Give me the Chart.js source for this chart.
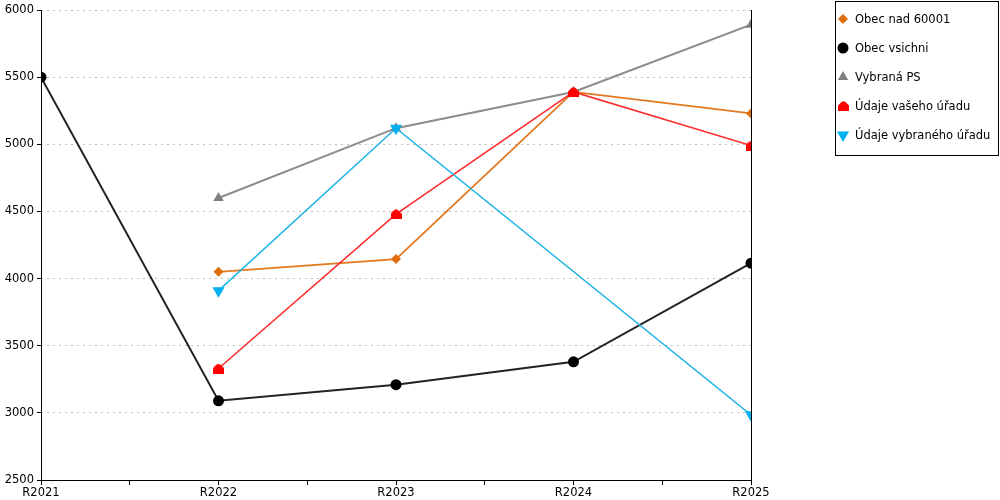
<!DOCTYPE html>
<html>
<head>
<meta charset="utf-8">
<script src="https://cdn.jsdelivr.net/npm/chart.js@4/dist/chart.umd.min.js"></script>
<style>
  html, body { margin: 0; padding: 0; background: #fff; }
  #wrap { width: 1000px; height: 500px; }
</style>
</head>
<body>
<div id="wrap"><canvas id="lineChart" width="1000" height="500"></canvas></div>
<script>
// data
const years = ["R2021", "R2022", "R2023", "R2024", "R2025"];
const obecNad60001 = [null, 4050, 4145, 5390, 5230];
const obecVsichni = [5500, 3090, 3210, 3380, 4115];
const vybranaPS = [null, 4600, 5120, 5390, 5890];
const vasUrad = [null, 3330, 4480, 5390, 4990];
const vybranyUrad = [null, 3910, 5120, null, 2985];
const yTicks = [2500, 3000, 3500, 4000, 4500, 5000, 5500, 6000];

const FONT = "DejaVu Sans";

// red "house" marker (rounded roof over a block)
function houseMarker(color) {
  const c = document.createElement("canvas");
  c.width = 11; c.height = 10;
  const g = c.getContext("2d");
  g.fillStyle = color;
  g.beginPath();
  g.moveTo(5.5, 0);
  g.lineTo(8, 1.5);
  g.lineTo(11, 4.5);
  g.lineTo(11, 10);
  g.lineTo(0, 10);
  g.lineTo(0, 4.5);
  g.lineTo(3, 1.5);
  g.closePath();
  g.fill();
  return c;
}
const house = houseMarker("#ff0000");

const toPoints = arr => arr.map((v, i) => ({ x: i, y: v }));

const series = [
  { label: "Obec nad 60001", data: obecNad60001, line: "#e2781e", fill: "#e06c0c", style: "rectRot", r: 5, w: 1.8 },
  { label: "Obec vsichni", data: obecVsichni, line: "#222222", fill: "#000000", style: "circle", r: 5.5, w: 2 },
  { label: "Vybraná PS", data: vybranaPS, line: "#8c8c8c", fill: "#808080", style: "triangle", r: 6, w: 2 },
  { label: "Údaje vašeho úřadu", data: vasUrad, line: "#ff2a2a", fill: "#ff0000", style: house, r: 6, w: 1.5 },
  { label: "Údaje vybraného úřadu", data: vybranyUrad, line: "#22b4e6", fill: "#00b0f0", style: "triangle", rot: 180, r: 7, w: 1.5, span: true }
];

// legend drawn in a framed box at the right
const boxLegend = {
  id: "boxLegend",
  afterDraw(chart) {
    const ctx = chart.ctx;
    ctx.save();
    ctx.strokeStyle = "#000";
    ctx.lineWidth = 1;
    ctx.strokeRect(835.5, 1.5, 163, 154);
    ctx.font = "11.5px '" + FONT + "'";
    ctx.textBaseline = "middle";
    series.forEach((s, i) => {
      const y = 19 + i * 29;
      ctx.fillStyle = s.fill;
      if (s.style === house) {
        ctx.drawImage(house, 838, y - 5);
      } else {
        Chart.helpers.drawPoint(ctx, {
          pointStyle: s.style, radius: s.r, rotation: s.rot || 0, borderWidth: 0
        }, 843, y);
      }
      ctx.fillStyle = "#000";
      ctx.fillText(s.label, 855, y + 1);
    });
    ctx.restore();
  }
};

new Chart(document.getElementById("lineChart"), {
  type: "line",
  data: {
    datasets: series.map((s, i) => ({
      label: s.label,
      data: toPoints(s.data),
      borderColor: s.line,
      borderWidth: s.w,
      backgroundColor: s.fill,
      pointBackgroundColor: s.fill,
      pointBorderColor: s.fill,
      pointBorderWidth: 0,
      pointStyle: s.style,
      pointRotation: s.rot || 0,
      pointRadius: s.r,
      pointHoverRadius: s.r,
      spanGaps: !!s.span,
      tension: 0,
      fill: false,
      order: series.length - i
    }))
  },
  options: {
    responsive: false,
    animation: false,
    devicePixelRatio: 1,
    layout: { padding: { top: 10, right: 249, left: 0, bottom: 0 } },
    plugins: { legend: { display: false }, tooltip: { enabled: false } },
    scales: {
      x: {
        type: "linear",
        min: 0,
        max: years.length - 1,
        afterBuildTicks: sc => {
          sc.ticks = [];
          for (let v = 0; v <= years.length - 1; v += 0.5) sc.ticks.push({ value: v });
        },
        afterFit: sc => { sc.height = 20; },
        border: { color: "#000", width: 1 },
        grid: { drawOnChartArea: false, color: "#000", tickLength: 5 },
        ticks: {
          autoSkip: false,
          maxRotation: 0,
          padding: 1,
          color: "#000",
          font: { family: FONT, size: 11.5 },
          callback: v => Number.isInteger(v) ? years[v] : ""
        }
      },
      y: {
        min: yTicks[0],
        max: yTicks[yTicks.length - 1],
        afterBuildTicks: sc => { sc.ticks = yTicks.map(v => ({ value: v })); },
        afterFit: sc => { sc.width = 41; },
        border: { color: "#000", width: 1 },
        grid: { drawOnChartArea: false, color: "#000", tickLength: 4 },
        ticks: { padding: 3, color: "#000", font: { family: FONT, size: 11.5 }, callback: v => String(v) }
      },
      // right-hand axis line + dashed horizontal grid
      y2: {
        position: "right",
        min: yTicks[0],
        max: yTicks[yTicks.length - 1],
        afterBuildTicks: sc => { sc.ticks = yTicks.map(v => ({ value: v })); },
        afterFit: sc => { sc.width = 0; },
        border: { color: "#000", width: 1, dash: [2, 4] },
        grid: { color: "#bdbdbd", drawTicks: false, tickLength: 0 },
        ticks: { display: false }
      }
    }
  },
  plugins: [boxLegend]
});
</script>
</body>
</html>
